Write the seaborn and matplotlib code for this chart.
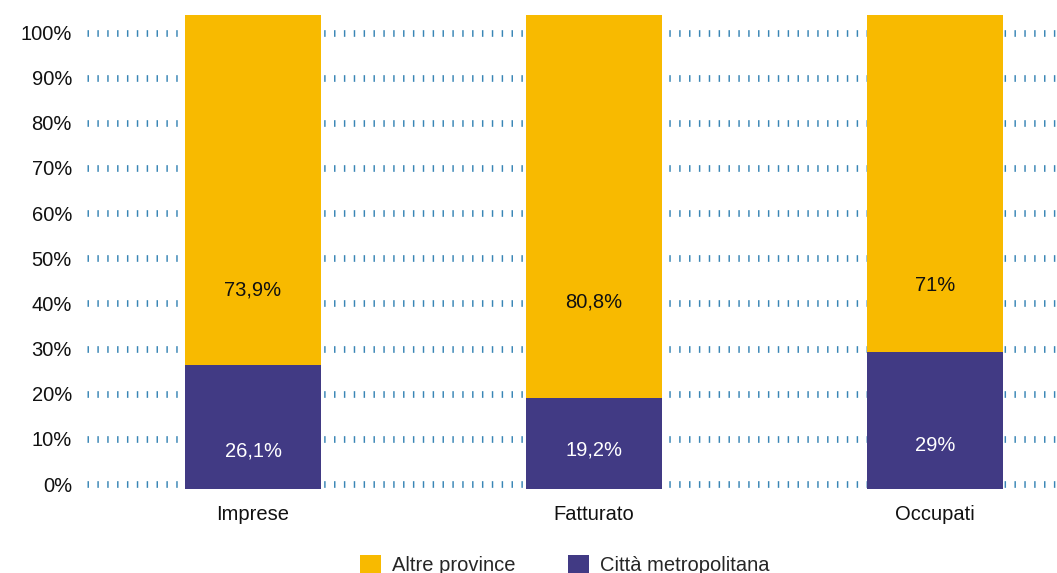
import matplotlib
matplotlib.use("Agg")
import matplotlib.pyplot as plt
from matplotlib.patches import Patch
import seaborn as sns
import pandas as pd

# Data
categories = ["Imprese", "Fatturato", "Occupati"]
altre_province = [73.9, 80.8, 71.0]
citta_metropolitana = [26.1, 19.2, 29.0]
value_labels_altre = ["73,9%", "80,8%", "71%"]
value_labels_citta = ["26,1%", "19,2%", "29%"]
y_ticks = list(range(0, 101, 10))
y_tick_labels = [f"{t}%" for t in y_ticks]

# Style
YELLOW = "#F8BA00"
PURPLE = "#413A84"
GRID_BLUE = "#2378AD"
FONT = 14.5

sns.set_theme(style="white")
plt.rcParams["font.family"] = ["Liberation Sans", "DejaVu Sans"]
plt.rcParams["lines.scale_dashes"] = False

W, H = 1057, 573
fig = plt.figure(figsize=(W / 100, H / 100), dpi=100)


def px_rect(left, right, top, bottom):
    return [left / W, 1 - bottom / H, (right - left) / W, (bottom - top) / H]


# Background axes: percentage scale and dashed guide lines
# 0% sits at y=484 px, 100% at y=32.5 px
ax_grid = fig.add_axes(px_rect(87, 1057, 32.5 - 4 * 4.515, 484 + 4 * 4.515))
ax_grid.set_ylim(-4, 104)
ax_grid.set_xlim(0, 1)
ax_grid.set_yticks(y_ticks)
ax_grid.set_yticklabels(y_tick_labels, fontsize=FONT, color="#111111")
ax_grid.set_xticks([])
ax_grid.tick_params(axis="y", length=0, pad=10.8)
for lbl in ax_grid.get_yticklabels():
    lbl.set_y(lbl.get_position()[1])
ax_grid.yaxis.grid(True, color=GRID_BLUE, linewidth=4.8,
                   linestyle=(0, (1.05, 6.05)), alpha=0.9)
for s in ax_grid.spines.values():
    s.set_visible(False)
ax_grid.set_facecolor("white")
ax_grid.set_zorder(0)

# Foreground axes: stacked bars
ax = fig.add_axes(px_rect(87, 1057, 15, 489))
ax.set_zorder(1)
ax.patch.set_alpha(0)

totals = [a + c for a, c in zip(altre_province, citta_metropolitana)]
df = pd.DataFrame({"categoria": categories, "totale": totals,
                   "citta": citta_metropolitana})
sns.barplot(data=df, x="categoria", y="totale", color=YELLOW, width=0.4,
            saturation=1, ax=ax, edgecolor="none")
sns.barplot(data=df, x="categoria", y="citta", color=PURPLE, width=0.4,
            saturation=1, ax=ax, edgecolor="none")

ax.set_ylim(0, 100)
ax.set_xlim(-0.487, 2.358)
ax.set_xlabel("")
ax.set_ylabel("")
ax.set_yticks([])
ax.tick_params(axis="x", length=0, pad=11.5, labelsize=FONT, labelcolor="#111111")
for s in ax.spines.values():
    s.set_visible(False)

# Value labels inside the segments
label_y_altre = [42.0, 39.5, 43.0]
label_y_citta = [8.1, 8.2, 9.1]
for i in range(len(categories)):
    ax.text(i, label_y_altre[i], value_labels_altre[i], ha="center", va="center",
            fontsize=FONT, color="#111111")
    ax.text(i, label_y_citta[i], value_labels_citta[i], ha="center", va="center",
            fontsize=FONT, color="white")

# Legend along the bottom edge
handles = [Patch(facecolor=YELLOW, edgecolor="none", label="Altre province"),
           Patch(facecolor=PURPLE, edgecolor="none", label="Città metropolitana")]
fig.legend(handles=handles, loc="upper left",
           bbox_to_anchor=(360 / W, 1 - 555 / H), ncol=2, frameon=False,
           fontsize=FONT, handlelength=1.05, handleheight=1.05,
           handletextpad=0.55, columnspacing=2.6, borderpad=0,
           borderaxespad=0)

fig.savefig("out.png", dpi=100)
